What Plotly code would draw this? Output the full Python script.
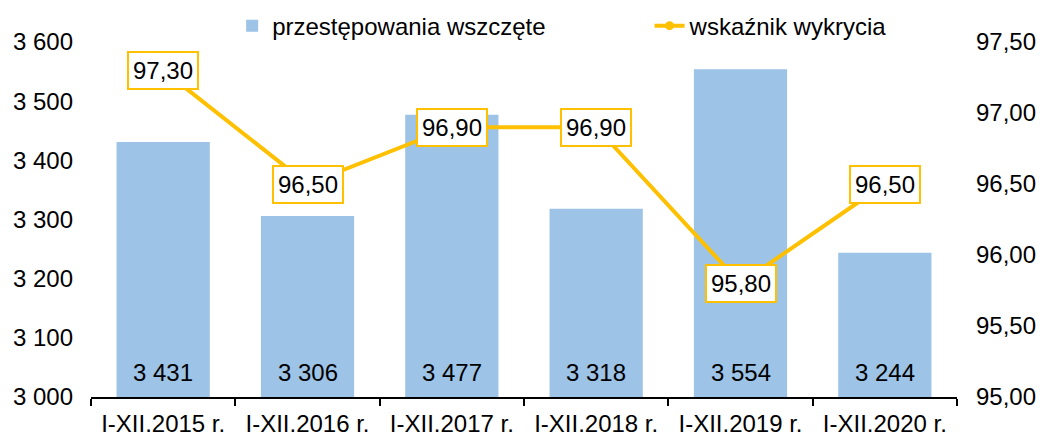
import plotly.graph_objects as go

# Dane: przestępstwa wszczęte i wskaźnik wykrycia w kolejnych latach
okresy = ["I-XII.2015 r.", "I-XII.2016 r.", "I-XII.2017 r.",
          "I-XII.2018 r.", "I-XII.2019 r.", "I-XII.2020 r."]
wszczete = [3431, 3306, 3477, 3318, 3554, 3244]
wskaznik = [97.30, 96.50, 96.90, 96.90, 95.80, 96.50]

BAR_COLOR = "#9DC3E6"
LINE_COLOR = "#FFC000"
FONT = "Liberation Sans, Arial, sans-serif"
FS = 24
Y_MIN, Y_MAX = 3000, 3600


def pl_int(v):
    return f"{v:,d}".replace(",", " ")


def pl_dec(v):
    return f"{v:.2f}".replace(".", ",")


fig = go.Figure()

fig.add_trace(go.Bar(
    x=okresy, y=wszczete,
    name="przestępowania wszczęte",
    marker=dict(color=BAR_COLOR, line=dict(width=0)),
    legend="legend",
    yaxis="y",
    hoverinfo="x+y",
))

fig.add_trace(go.Scatter(
    x=okresy, y=wskaznik,
    name="wskaźnik wykrycia",
    mode="lines+markers",
    line=dict(color=LINE_COLOR, width=4),
    marker=dict(color=LINE_COLOR, size=9),
    legend="legend2",
    yaxis="y2",
))

# Wartości słupków wypisane u ich podstawy
for okres, v in zip(okresy, wszczete):
    fig.add_annotation(
        x=okres, y=Y_MIN, xref="x", yref="y",
        text=pl_int(v), showarrow=False, yanchor="middle", yshift=25,
        font=dict(color="#000000", size=FS, family=FONT),
    )

# Etykiety wartości wskaźnika w ramkach
for okres, v in zip(okresy, wskaznik):
    fig.add_annotation(
        x=okres, y=v, xref="x", yref="y2",
        text=pl_dec(v), showarrow=False,
        font=dict(color="#000000", size=FS, family=FONT),
        bgcolor="#FFFFFF", bordercolor=LINE_COLOR, borderwidth=2, borderpad=4,
    )

fig.update_layout(
    width=1040, height=435,
    margin=dict(l=91, r=83, t=42, b=38, autoexpand=False),
    paper_bgcolor="#FFFFFF", plot_bgcolor="#FFFFFF",
    font=dict(family=FONT, size=FS, color="#000000"),
    separators=", ",
    bargap=0.354,
    showlegend=True,
    legend=dict(orientation="h", x=0.163, xanchor="left", y=1.045, yanchor="middle",
                font=dict(size=FS, family=FONT), bgcolor="rgba(0,0,0,0)"),
    legend2=dict(orientation="h", x=0.645, xanchor="left", y=1.045, yanchor="middle",
                 font=dict(size=FS, family=FONT), bgcolor="rgba(0,0,0,0)"),
    xaxis=dict(
        type="category", automargin=False,
        showline=True, linecolor="#000000", linewidth=1.5,
        ticks="outside", tickson="boundaries", ticklen=7, tickcolor="#000000", tickwidth=1.5,
        ticklabelstandoff=4,
        showgrid=False, tickfont=dict(size=FS, family=FONT, color="#000000"),
    ),
    yaxis=dict(
        range=[Y_MIN, Y_MAX], tickvals=[3000, 3100, 3200, 3300, 3400, 3500, 3600],
        separatethousands=True, tickformat=",d", automargin=False,
        showgrid=False, zeroline=False, showline=False, ticks="",
        ticklabelstandoff=17,
        tickfont=dict(size=FS, family=FONT, color="#000000"),
    ),
    yaxis2=dict(
        range=[95, 97.5], tickvals=[95, 95.5, 96, 96.5, 97, 97.5],
        tickformat=".2f", overlaying="y", side="right", automargin=False,
        showgrid=False, zeroline=False, showline=False, ticks="",
        ticklabelstandoff=18,
        tickfont=dict(size=FS, family=FONT, color="#000000"),
    ),
)

fig.write_html("out.html")
